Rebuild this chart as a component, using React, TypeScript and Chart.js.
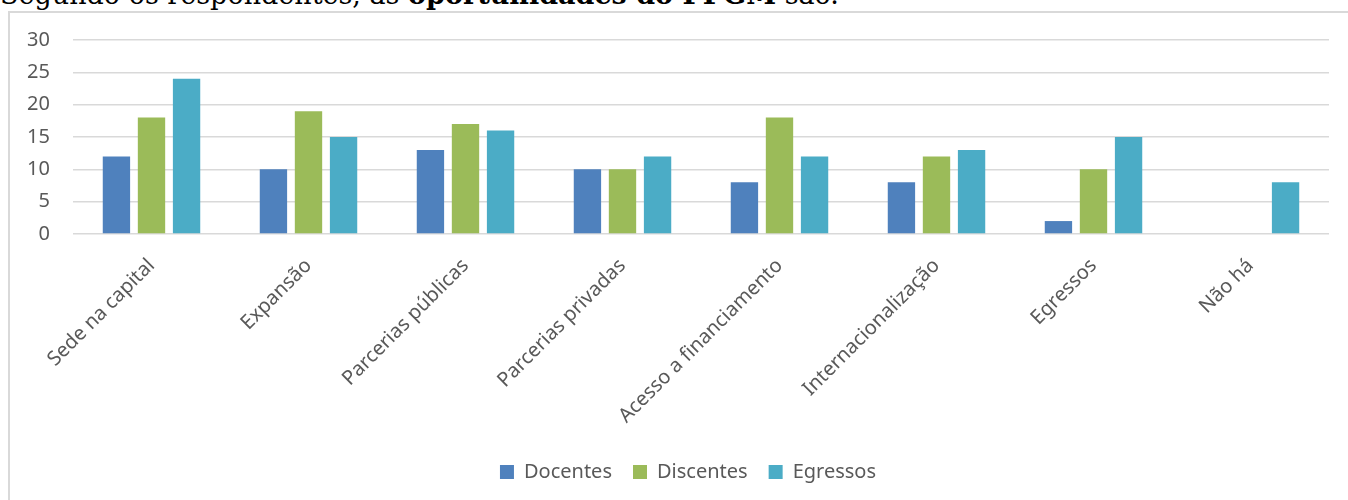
import React, { useEffect, useRef } from "react";
import { Chart, registerables } from "chart.js";

Chart.register(...registerables);

const categories = [
  "Sede na capital",
  "Expansão",
  "Parcerias públicas",
  "Parcerias privadas",
  "Acesso a financiamento",
  "Internacionalização",
  "Egressos",
  "Não há",
];
const seriesNames = ["Docentes", "Discentes", "Egressos"];
const docentes = [12, 10, 13, 10, 8, 8, 2, 0];
const discentes = [18, 19, 17, 10, 18, 12, 10, 0];
const egressos = [24, 15, 16, 12, 12, 13, 15, 8];
const seriesColors = ["#4f81bd", "#9bbb59", "#4bacc6"];
const yMin = 0;
const yMax = 30;
const yStep = 5;

const FONT = "'Noto Sans', sans-serif";
const TEXT = "#595959";
const GRID = "#d9d9d9";

export default function App() {
  const canvasRef = useRef<HTMLCanvasElement | null>(null);

  useEffect(() => {
    const canvas = canvasRef.current;
    if (!canvas) return;
    const values = [docentes, discentes, egressos];
    const chart = new Chart(canvas, {
      type: "bar",
      data: {
        labels: categories,
        datasets: seriesNames.map((name, i) => ({
          label: name,
          data: values[i],
          backgroundColor: seriesColors[i],
          borderWidth: 0,
          categoryPercentage: 0.67,
          barPercentage: 0.78,
        })),
      },
      options: {
        responsive: false,
        animation: false,
        layout: { padding: { left: 0, right: 0, top: 27, bottom: 8 } },
        plugins: {
          legend: {
            position: "bottom",
            labels: {
              boxWidth: 14,
              boxHeight: 14,
              padding: 21,
              color: TEXT,
              font: { family: FONT, size: 20 },
            },
          },
          tooltip: { enabled: false },
          title: { display: false },
        },
        scales: {
          x: {
            grid: { display: false },
            border: { display: false },
            ticks: {
              color: TEXT,
              font: { family: FONT, size: 20 },
              maxRotation: 45,
              minRotation: 45,
              autoSkip: false,
              padding: 12,
            },
            afterFit: (scale: any) => {
              scale.height = 207;
            },
          },
          y: {
            min: yMin,
            max: yMax,
            grid: {
              color: GRID,
              lineWidth: 1.5,
              drawTicks: true,
              tickLength: 20,
              tickColor: "rgba(0,0,0,0)",
            },
            border: { display: false },
            ticks: {
              stepSize: yStep,
              color: TEXT,
              font: { family: FONT, size: 20 },
              padding: 3,
            },
            afterFit: (scale: any) => {
              scale.width = 63;
            },
          },
          yR: {
            position: "right",
            display: true,
            grid: { display: false },
            border: { display: false },
            ticks: { display: false },
            afterFit: (scale: any) => {
              scale.width = 37;
            },
          },
        },
      },
    } as any);
    return () => chart.destroy();
  }, []);

  return (
    <div
      style={{
        position: "fixed",
        left: 0,
        top: 0,
        width: 1348,
        height: 500,
        overflow: "hidden",
        background: "#fff",
      }}
    >
      <div
        style={{
          position: "absolute",
          left: 0,
          top: -19,
          whiteSpace: "nowrap",
          fontFamily: "'DejaVu Serif', serif",
          fontSize: 27,
          lineHeight: "27px",
          color: "#000",
        }}
      >
        Segundo os respondentes, as <b>oportunidades do PPGM</b> são.
      </div>
      <div
        style={{
          position: "absolute",
          left: 8,
          top: 11,
          width: 1360,
          height: 520,
          border: "2px solid #d9d9d9",
          boxSizing: "border-box",
        }}
      >
        <canvas
          ref={canvasRef}
          width={1356}
          height={487}
          style={{ position: "absolute", left: 0, top: 0, display: "block" }}
        />
      </div>
    </div>
  );
}
